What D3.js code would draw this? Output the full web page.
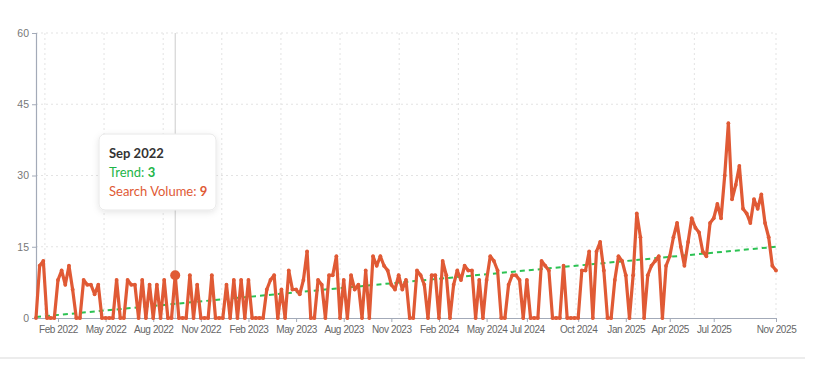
<!DOCTYPE html>
<html>
<head>
<meta charset="utf-8">
<script src="https://cdn.jsdelivr.net/npm/d3@7"></script>
<style>
  html, body { margin: 0; padding: 0; background: #fff; }
  svg { display: block; font-family: Lato, "Open Sans", sans-serif; }
</style>
</head>
<body>
<div id="chart"></div>
<script>
// weekly search volume, first week starting 2021-12-26
const firstWeek = '2021-12-26';
const volume = [
  0, 11, 12, 0, 0, 0, 8, 10, 7, 11, 6, 0, 0, 8, 7, 7, 5, 7, 0, 0,
  0, 0, 8, 0, 0, 8, 7, 7, 0, 8, 0, 7, 0, 7, 0, 8, 0, 0, 9, 0,
  0, 0, 9, 0, 7, 0, 0, 0, 9, 0, 0, 0, 7, 0, 8, 0, 8, 0, 8, 0,
  0, 0, 0, 6, 8, 9, 0, 6, 0, 10, 6, 6, 5, 8, 14, 0, 0, 8, 7, 0,
  9, 9, 13, 0, 8, 0, 9, 6, 7, 0, 10, 0, 13, 11, 13, 11, 10, 7, 6, 9,
  6, 8, 0, 0, 10, 9, 7, 0, 9, 9, 0, 12, 9, 0, 7, 10, 8, 11, 10, 10,
  0, 8, 0, 8, 13, 12, 10, 0, 0, 7, 9, 9, 8, 0, 8, 0, 0, 0, 12, 11,
  10, 0, 0, 0, 11, 0, 0, 0, 0, 10, 10, 14, 0, 14, 16, 10, 0, 0, 8, 13,
  12, 9, 0, 9, 22, 17, 0, 9, 11, 12, 13, 0, 11, 13, 17, 20, 15, 11, 16, 21,
  19, 18, 14, 13, 20, 21, 24, 21, 30, 41, 25, 28, 32, 23, 22, 20, 25, 23, 26, 20,
  17, 11, 10
];
// trend line end values (first and last week)
const trend = [0.2, 15];
const yTicks = [0, 15, 30, 45, 60];
const tickDates = ['2022-02-06', '2022-05-08', '2022-08-07', '2022-11-06', '2023-02-05', '2023-05-07',
  '2023-08-06', '2023-11-05', '2024-02-04', '2024-05-05', '2024-07-21', '2024-10-27',
  '2025-01-26', '2025-04-20', '2025-07-13', '2025-11-09'];
const hoverWeek = '2022-09-18';
const hoverTitle = 'Sep 2022';
const hoverTrend = 3;
const hoverVolume = 9;

const width = 815;
const height = 385;
const margin = { top: 33, right: 39, bottom: 67, left: 36 };
const lineColor = '#e05a35';
const trendColor = '#2cc253';
const axisColor = '#a3aab8';
const gridColor = '#e3e3e3';

const parse = d3.timeParse('%Y-%m-%d');
const start = parse(firstWeek);
const data = volume.map((v, i) => ({ date: d3.timeWeek.offset(start, i), value: v }));

const svg = d3.select('#chart')
  .append('svg')
  .attr('width', width)
  .attr('height', height);

const x = d3.scaleTime()
  .domain([data[0].date, data[data.length - 1].date])
  .range([margin.left, width - margin.right]);

const y = d3.scaleLinear()
  .domain([0, 60])
  .range([height - margin.bottom, margin.top]);

// grid
const grid = svg.append('g')
  .attr('stroke', gridColor)
  .attr('stroke-dasharray', '2,3')
  .attr('stroke-width', 1);

grid.selectAll('line.h')
  .data(yTicks.slice(1))
  .join('line')
  .attr('x1', margin.left)
  .attr('x2', width - margin.right)
  .attr('y1', d => y(d))
  .attr('y2', d => y(d));

const gridDates = d3.range(12).map(k => d3.timeDay.offset(start, Math.round(17 + 112.8 * k)));
gridDates.push(data[data.length - 1].date);
grid.selectAll('line.v')
  .data(gridDates)
  .join('line')
  .attr('x1', d => x(d))
  .attr('x2', d => x(d))
  .attr('y1', margin.top)
  .attr('y2', height - margin.bottom);

// hover cursor
svg.append('line')
  .attr('x1', x(parse(hoverWeek)))
  .attr('x2', x(parse(hoverWeek)))
  .attr('y1', margin.top)
  .attr('y2', height - margin.bottom)
  .attr('stroke', '#cccccc')
  .attr('stroke-width', 1);

// axes
const yAxis = g => g
  .attr('transform', `translate(${margin.left},0)`)
  .call(d3.axisLeft(y).tickValues(yTicks).tickSize(4).tickPadding(3))
  .call(g => g.select('.domain').attr('stroke', axisColor).attr('stroke-width', 1.2))
  .call(g => g.selectAll('.tick line').attr('stroke', axisColor))
  .call(g => g.selectAll('.tick text').attr('fill', '#777').attr('font-size', 10.5));

const xAxis = g => g
  .attr('transform', `translate(0,${height - margin.bottom})`)
  .call(d3.axisBottom(x)
    .tickValues(tickDates.map(parse))
    .tickFormat(d3.timeFormat('%b %Y'))
    .tickSize(4)
    .tickPadding(4)
    .tickSizeOuter(0))
  .call(g => g.select('.domain').attr('stroke', axisColor).attr('stroke-width', 1.2))
  .call(g => g.selectAll('.tick line').attr('stroke', axisColor))
  .call(g => g.selectAll('.tick text')
    .attr('fill', '#666')
    .attr('font-size', 10)
    .attr('letter-spacing', -0.4));

svg.append('g').call(yAxis);
svg.append('g').call(xAxis);

// trend line
svg.append('path')
  .datum([
    { date: data[0].date, value: trend[0] },
    { date: data[data.length - 1].date, value: trend[1] }
  ])
  .attr('fill', 'none')
  .attr('stroke', trendColor)
  .attr('stroke-width', 2)
  .attr('stroke-dasharray', '5,4')
  .attr('d', d3.line().x(d => x(d.date)).y(d => y(d.value)));

// volume line
svg.append('path')
  .datum(data)
  .attr('fill', 'none')
  .attr('stroke', lineColor)
  .attr('stroke-width', 3.2)
  .attr('stroke-linejoin', 'round')
  .attr('d', d3.line().x(d => x(d.date)).y(d => y(d.value)));

svg.append('g')
  .selectAll('circle')
  .data(data)
  .join('circle')
  .attr('cx', d => x(d.date))
  .attr('cy', d => y(d.value))
  .attr('r', 1.9)
  .attr('fill', lineColor);

// active dot
svg.append('circle')
  .attr('cx', x(parse(hoverWeek)))
  .attr('cy', y(hoverVolume))
  .attr('r', 5)
  .attr('fill', lineColor);

// bottom separator
svg.append('line')
  .attr('x1', 0)
  .attr('x2', 805)
  .attr('y1', 358)
  .attr('y2', 358)
  .attr('stroke', '#e6e6e6')
  .attr('stroke-width', 1.5);

// tooltip
const defs = svg.append('defs');
const shadow = defs.append('filter')
  .attr('id', 'shadow')
  .attr('x', '-20%').attr('y', '-20%')
  .attr('width', '140%').attr('height', '150%');
shadow.append('feDropShadow')
  .attr('dx', 0).attr('dy', 2)
  .attr('stdDeviation', 3)
  .attr('flood-color', '#000')
  .attr('flood-opacity', 0.1);

const tip = svg.append('g').attr('transform', 'translate(99,134)');
tip.append('rect')
  .attr('width', 117)
  .attr('height', 76)
  .attr('rx', 6)
  .attr('fill', '#fff')
  .attr('stroke', '#e8e8e8')
  .attr('filter', 'url(#shadow)');

tip.append('text')
  .attr('x', 10).attr('y', 24)
  .attr('font-size', 13)
  .attr('font-weight', 700)
  .attr('fill', '#333')
  .text(hoverTitle);

const t1 = tip.append('text')
  .attr('x', 10).attr('y', 43)
  .attr('font-size', 13)
  .attr('fill', '#1eb548');
t1.append('tspan').text('Trend: ');
t1.append('tspan').attr('font-weight', 700).text(hoverTrend);

const t2 = tip.append('text')
  .attr('x', 10).attr('y', 62)
  .attr('font-size', 13)
  .attr('fill', lineColor);
t2.append('tspan').text('Search Volume: ');
t2.append('tspan').attr('font-weight', 700).text(hoverVolume);
</script>
</body>
</html>
